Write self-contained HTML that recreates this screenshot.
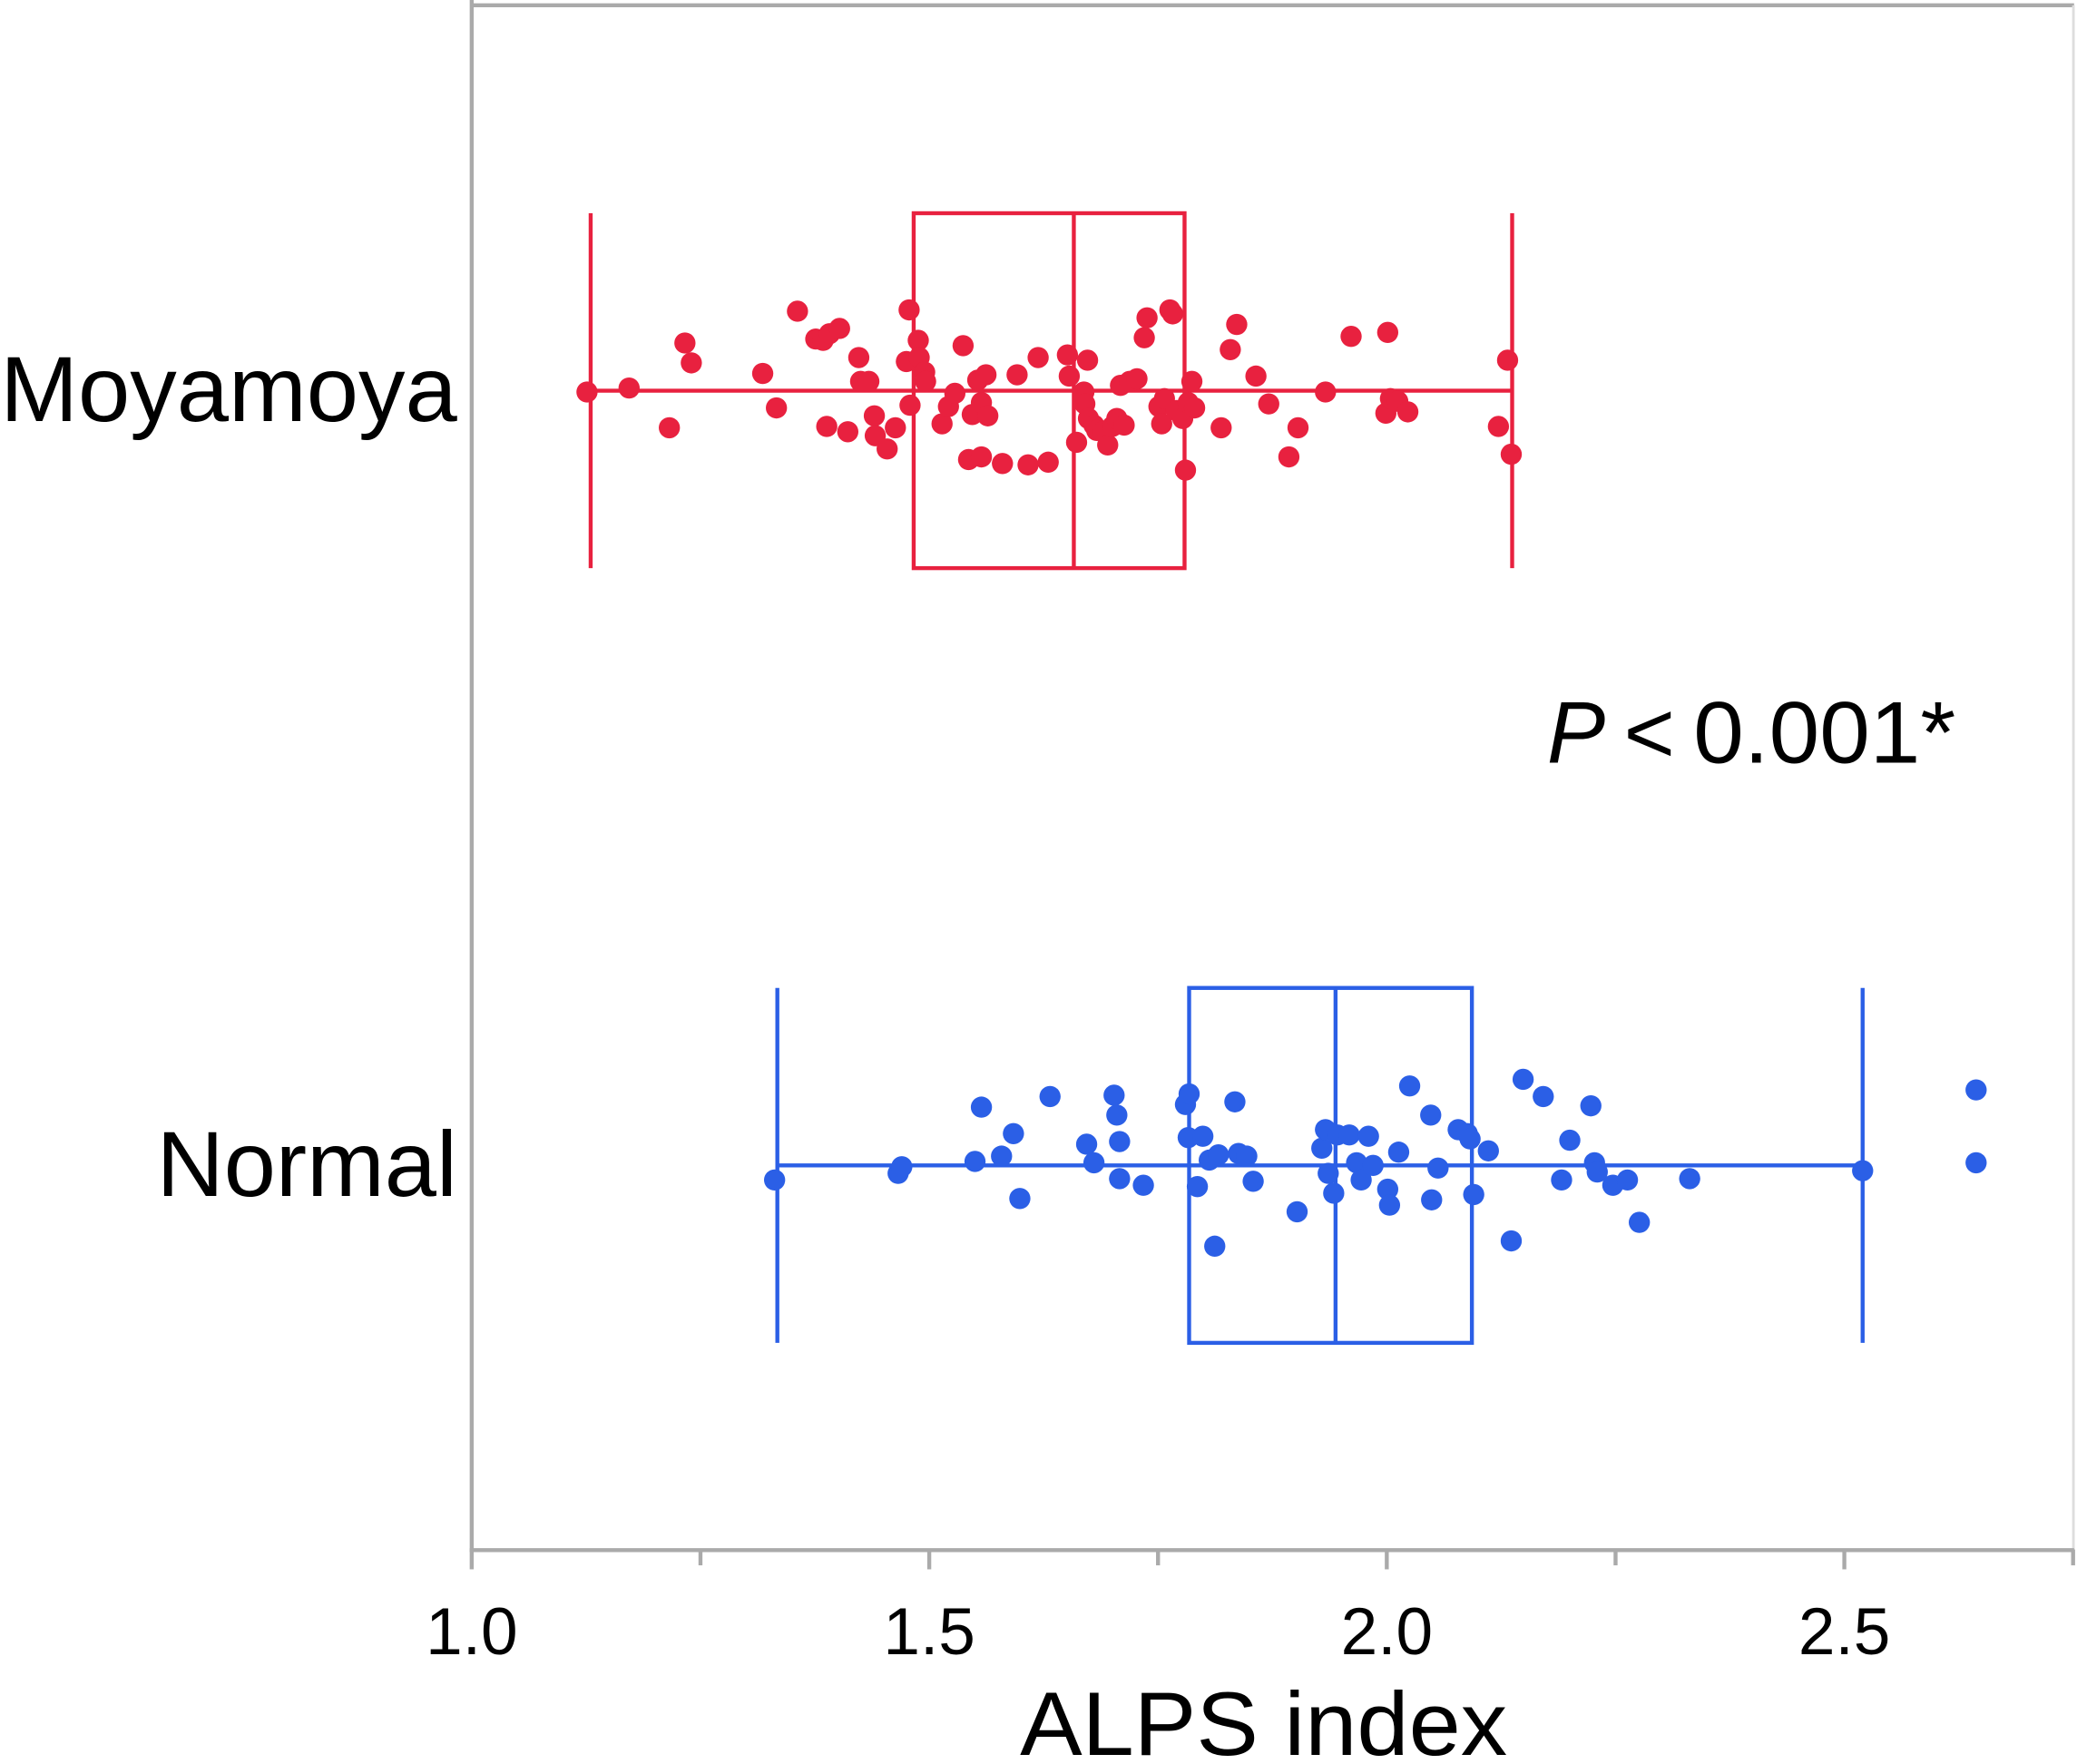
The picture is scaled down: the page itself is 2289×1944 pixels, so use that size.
<!DOCTYPE html>
<html><head><meta charset="utf-8"><style>
html,body{margin:0;padding:0;background:#fff;}
svg{display:block;font-family:"Liberation Sans",Arial,sans-serif;}
</style></head><body>
<svg id="chart" width="2289" height="1944" viewBox="0 0 1568 1332" xmlns="http://www.w3.org/2000/svg">
<g id="frame">
<line x1="356" y1="4" x2="1566" y2="4" stroke="#aaa" stroke-width="3"/>
<line x1="1565.5" y1="4" x2="1565.5" y2="1172" stroke="#ddd" stroke-width="2"/>
<line x1="356" y1="0" x2="356" y2="1172" stroke="#aaa" stroke-width="3"/>
<line x1="354.5" y1="1170.5" x2="1566" y2="1170.5" stroke="#aaa" stroke-width="3"/>
</g>
<g id="ticks"></g>
<g id="plots"></g>
<text x="0" y="318" font-size="70" textLength="345" lengthAdjust="spacingAndGlyphs">Moyamoya</text>
<text x="118" y="903" font-size="70" textLength="227" lengthAdjust="spacingAndGlyphs">Normal</text>
<text x="770" y="1325" font-size="68" textLength="368" lengthAdjust="spacingAndGlyphs">ALPS index</text>
<text x="1168" y="576" font-size="66"><tspan font-style="italic">P</tspan><tspan dx="14">&lt;</tspan><tspan dx="14" textLength="198" lengthAdjust="spacingAndGlyphs">0.001*</tspan></text>
</svg>
<script>
const tickValues=[1.0,1.5,2.0,2.5];
const tickLabels=["1.0","1.5","2.0","2.5"];
const minorTicks=[1.25,1.75,2.25,2.75];
const groups=["Moyamoya","Normal"];
const mmStats=[1.13,1.483,1.658,1.779,2.137];
const nmStats=[1.334,1.784,1.944,2.093,2.520];
const mmValues=[1.126,1.172,1.216,1.233,1.240,1.318,1.333,1.356,1.376,1.384,
1.391,1.402,1.388,1.411,1.423,1.425,1.434,1.440,1.441,1.454,
1.463,1.478,1.475,1.479,1.488,1.489,1.495,1.496,1.514,1.521,
1.528,1.537,1.543,1.547,1.553,1.557,1.557,1.562,1.564,1.580,
1.596,1.608,1.619,1.630,1.651,1.653,1.661,1.669,1.670,1.673,
1.674,1.680,1.683,1.690,1.695,1.700,1.705,1.709,1.713,1.719,
1.727,1.735,1.738,1.751,1.754,1.757,1.763,1.766,1.770,1.777,
1.780,1.783,1.787,1.790,1.819,1.829,1.836,1.857,1.871,1.893,
1.903,1.933,1.961,2.001,1.999,2.004,2.012,2.023,2.122,2.132,2.136];
const mmJitter=[1,-2,28,-36,-21,-13,13,-60,-39,-38,
-43,-47,27,31,-25,-7,-7,19,34,44,
28,-61,-22,11,-38,-25,-14,-7,25,12,
2,-34,52,18,-8,50,9,-12,19,55,
-12,56,-25,54,-27,-11,39,1,10,-23,
21,26,30,31,41,27,21,-4,26,-7,
-9,-40,-55,12,25,6,-61,-58,15,21,
60,9,-7,13,28,-31,-50,-11,10,50,
28,1,-41,-44,17,6,8,16,27,-23,48];
const nmValues=[1.331,1.466,1.470,1.550,1.557,1.579,1.592,1.599,1.632,1.672,
1.680,1.702,1.705,1.708,1.708,1.734,1.780,1.784,1.783,1.793,
1.799,1.806,1.812,1.816,1.834,1.838,1.847,1.854,1.902,1.929,
1.933,1.936,1.942,1.946,1.959,1.967,1.972,1.980,1.985,2.001,
2.003,2.013,2.025,2.048,2.049,2.056,2.078,2.088,2.091,2.095,
2.111,2.136,2.149,2.171,2.191,2.200,2.223,2.227,2.230,2.247,
2.263,2.276,2.331,2.520,2.644,2.644];
const nmJitter=[11,6,1,-3,-44,-7,-24,25,-52,-16,
-2,-53,-38,-18,10,15,-46,-54,-21,16,
-22,-4,61,-8,-48,-9,-7,12,35,-13,
-27,6,21,-23,-23,-2,11,-22,0,18,
30,-10,-60,-38,26,2,-27,-24,-20,22,
-11,57,-65,-52,11,-19,-45,-2,5,15,
11,43,10,4,-57,-2];

const NS="http://www.w3.org/2000/svg";
const xs=v=>356+(v-1)*691;
const groupY=[295,880];
function mk(tag,attrs,parent){const e=document.createElementNS(NS,tag);for(const k in attrs)e.setAttribute(k,attrs[k]);parent.appendChild(e);return e;}
const tg=document.getElementById('ticks');
tickValues.forEach((v,i)=>{
 const l=mk('line',{x1:xs(v),x2:xs(v),y1:1170,y2:1185,stroke:'#aaa','stroke-width':3},tg);
 
 
 const t=mk('text',{x:xs(v),y:1249,'text-anchor':'middle','font-size':50},tg);
 t.textContent=tickLabels[i];
 
 
});
minorTicks.forEach(v=>{
 const l=mk('line',{x1:xs(v),x2:xs(v),y1:1170,y2:1182,stroke:'#aaa','stroke-width':3},tg);
 
 
});
const pg=document.getElementById('plots');
function drawGroup(stats,vals,jit,cy,color,name){
 const g=mk('g',{},pg);
 
 
 const h=134;
 const sw={stroke:color,'stroke-width':3,fill:'none'};
 const wl=mk('line',Object.assign({x1:xs(stats[0]),x2:xs(stats[0]),y1:cy-h,y2:cy+h},sw),g);
 
 
 const wh=mk('line',Object.assign({x1:xs(stats[4]),x2:xs(stats[4]),y1:cy-h,y2:cy+h},sw),g);
 
 
 const ml=mk('line',Object.assign({x1:xs(stats[0]),x2:xs(stats[4]),y1:cy,y2:cy},sw),g);
 
 
 const bx=mk('rect',Object.assign({x:xs(stats[1]),y:cy-h,width:xs(stats[3])-xs(stats[1]),height:2*h},sw),g);
 
 
 const md=mk('line',Object.assign({x1:xs(stats[2]),x2:xs(stats[2]),y1:cy-h,y2:cy+h},sw),g);
 
 
 vals.forEach((v,i)=>{
  const c=mk('circle',{cx:xs(v),cy:cy+jit[i],r:8,fill:color},g);
  
  
 });
}
drawGroup(mmStats,mmValues,mmJitter,groupY[0],'#e8213f','moyamoya');
drawGroup(nmStats,nmValues,nmJitter,groupY[1],'#2b5fe6','normal');
</script>
</body></html>
